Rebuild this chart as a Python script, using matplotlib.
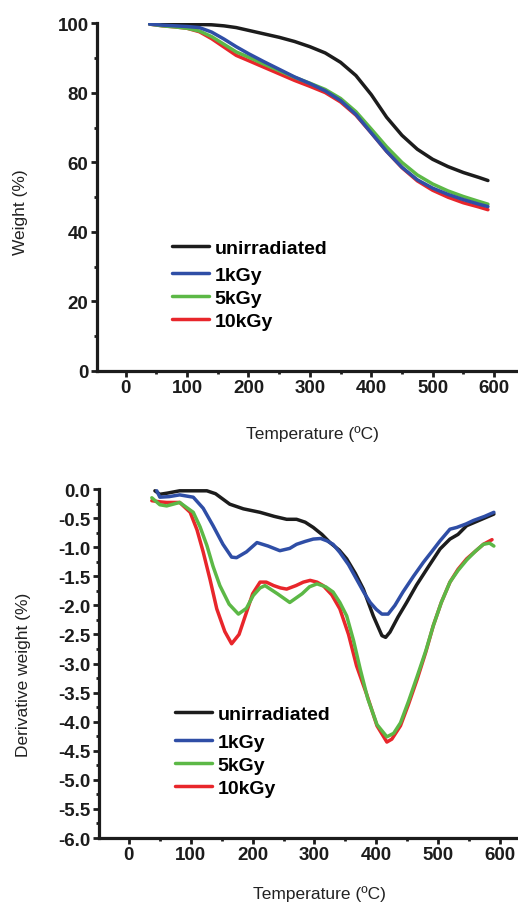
import matplotlib
matplotlib.use("Agg")
import matplotlib.pyplot as plt
from matplotlib.ticker import MultipleLocator

plt.rcParams['font.family'] = ['Liberation Sans', 'DejaVu Sans']

# TGA data (weight %)
tga_temp = [39, 60, 80, 100, 120, 140, 160, 180, 200, 225, 250, 275, 300, 325,
            350, 375, 400, 425, 450, 475, 500, 525, 550, 575, 590]
w_unirr = [99.8, 99.8, 99.8, 99.8, 99.7, 99.6, 99.3, 98.8, 98.0, 97.0, 96.0, 94.8, 93.3, 91.5,
           88.8, 85.0, 79.5, 73.0, 67.8, 63.8, 60.9, 58.8, 57.1, 55.7, 54.8]
w_1kgy = [99.8, 99.5, 99.3, 99.1, 98.8, 97.5, 95.5, 93.3, 91.3, 89.0, 86.8, 84.6, 82.7, 80.6,
          77.8, 73.8, 68.5, 63.2, 58.6, 55.0, 52.6, 50.8, 49.3, 48.0, 47.3]
w_5kgy = [99.8, 99.3, 99.0, 98.6, 97.8, 96.2, 94.0, 91.8, 90.3, 88.3, 86.4, 84.5, 82.8, 81.0,
          78.4, 74.6, 69.6, 64.5, 60.0, 56.4, 53.8, 51.8, 50.2, 48.8, 48.0]
w_10kgy = [99.8, 99.3, 99.0, 98.6, 97.6, 95.6, 93.2, 90.8, 89.3, 87.4, 85.5, 83.6, 81.9, 80.1,
           77.4, 73.6, 68.5, 63.2, 58.5, 54.7, 52.0, 50.0, 48.4, 47.2, 46.4]

# DTG data (derivative weight %)
t_unirr = [42, 50, 62, 82, 100, 126, 140, 163, 185, 212, 235, 255, 271, 285, 298, 312, 325, 340,
           352, 366, 379, 395, 409, 415, 422, 435, 449, 465, 482, 503, 519, 532, 546, 568, 590]
d_unirr = [-0.03, -0.09, -0.07, -0.03, -0.03, -0.03, -0.08, -0.26, -0.34, -0.4, -0.47, -0.52,
           -0.52, -0.57, -0.66, -0.78, -0.92, -1.05, -1.2, -1.45, -1.72, -2.18, -2.52, -2.55,
           -2.46, -2.2, -1.95, -1.65, -1.37, -1.03, -0.86, -0.78, -0.63, -0.53, -0.43]

t_1kgy = [45, 50, 65, 82, 104, 120, 136, 152, 166, 174, 190, 207, 225, 244, 260, 271, 285, 298,
          310, 320, 330, 341, 355, 368, 380, 390, 400, 409, 419, 430, 443, 460, 476, 490, 503,
          519, 530, 545, 557, 575, 590]
d_1kgy = [-0.03, -0.14, -0.13, -0.1, -0.14, -0.33, -0.63, -0.95, -1.17, -1.18, -1.08, -0.92,
          -0.98, -1.06, -1.02, -0.95, -0.9, -0.86, -0.85, -0.89, -0.95, -1.09, -1.3, -1.55,
          -1.78, -1.95, -2.07, -2.15, -2.15, -2.0, -1.77, -1.5, -1.26, -1.07, -0.89, -0.69,
          -0.66, -0.6, -0.54, -0.47, -0.4]

t_5kgy = [37, 50, 61, 82, 104, 115, 126, 136, 147, 162, 177, 190, 201, 212, 220, 240, 260, 280,
          292, 304, 318, 330, 341, 352, 363, 374, 386, 401, 417, 428, 439, 452, 466, 480, 492,
          505, 519, 532, 546, 560, 573, 583, 590]
d_5kgy = [-0.15, -0.27, -0.29, -0.23, -0.4, -0.65, -0.97, -1.33, -1.66, -1.98, -2.15, -2.05,
          -1.83, -1.7, -1.66, -1.8, -1.95, -1.8, -1.68, -1.63, -1.68, -1.77, -1.95, -2.18, -2.6,
          -3.1, -3.6, -4.05, -4.26, -4.2, -4.02, -3.65, -3.22, -2.78, -2.35, -1.95, -1.6, -1.4,
          -1.22, -1.07, -0.95, -0.93, -0.98]

t_10kgy = [37, 50, 61, 82, 99, 110, 120, 131, 142, 155, 166, 178, 190, 200, 212, 222, 234, 245,
           255, 270, 282, 293, 304, 314, 328, 341, 355, 368, 385, 401, 417, 425, 439, 452, 466,
           480, 492, 505, 519, 532, 546, 560, 573, 587]
d_10kgy = [-0.2, -0.22, -0.23, -0.23, -0.4, -0.7, -1.08, -1.55, -2.06, -2.45, -2.66, -2.5,
           -2.12, -1.8, -1.6, -1.6, -1.66, -1.7, -1.72, -1.66, -1.6, -1.57, -1.6, -1.66, -1.82,
           -2.06, -2.5, -3.04, -3.55, -4.07, -4.35, -4.3, -4.07, -3.7, -3.27, -2.8, -2.35, -1.95,
           -1.6, -1.38, -1.2, -1.07, -0.95, -0.87]

labels = ["unirradiated", "1kGy", "5kGy", "10kGy"]
colors = ["#1c1c1c", "#2f4ea6", "#5cb846", "#e8262b"]

fig = plt.figure(figsize=(5.18, 9.04), dpi=100)
ax1 = fig.add_axes([0.187, 0.5885, 0.813, 0.3845])
ax2 = fig.add_axes([0.191, 0.0719, 0.809, 0.386])


def style_axes(ax):
    for s in ['top', 'right']:
        ax.spines[s].set_visible(False)
    for s in ['left', 'bottom']:
        ax.spines[s].set_linewidth(2.3)
        ax.spines[s].set_color('#1c1c1c')
    ax.tick_params(which='major', direction='out', length=4, width=2, color='#1c1c1c',
                   labelsize=13.5, labelcolor='#1c1c1c', pad=2)
    ax.tick_params(which='minor', direction='out', length=2.5, width=2, color='#1c1c1c')
    for lab in ax.get_xticklabels() + ax.get_yticklabels():
        lab.set_fontweight('bold')


def add_legend(ax, lines, x, y1, y2):
    kw = dict(frameon=False, prop={'weight': 'bold', 'size': 14}, handlelength=1.9,
              handletextpad=0.3, borderaxespad=0, loc='upper left')
    leg1 = ax.legend(lines[:1], labels[:1], bbox_to_anchor=(x, y1), **kw)
    ax.add_artist(leg1)
    ax.legend(lines[1:], labels[1:], bbox_to_anchor=(x, y2), labelspacing=0.28, **kw)


# top panel
tga_series = [w_unirr, w_1kgy, w_5kgy, w_10kgy]
lines1 = [None] * 4
for i in [0, 3, 2, 1]:
    lines1[i], = ax1.plot(tga_temp, tga_series[i], color=colors[i], lw=2.5, solid_capstyle='round')
ax1.set_xlim(-47, 639)
ax1.set_ylim(0, 100)
ax1.set_xticks([0, 100, 200, 300, 400, 500, 600])
ax1.xaxis.set_minor_locator(MultipleLocator(50))
ax1.yaxis.set_major_locator(MultipleLocator(20))
ax1.yaxis.set_minor_locator(MultipleLocator(10))
style_axes(ax1)
ax1.set_xlabel("Temperature (ºC)", fontsize=12.5, color='#222222')
ax1.set_ylabel("Weight (%)", fontsize=12.5, color='#222222')
ax1.xaxis.set_label_coords(0.511, -0.155)
ax1.yaxis.set_label_coords(-0.163, 0.46)
add_legend(ax1, lines1, 0.16, 0.402, 0.324)

# bottom panel
dtg_t = [t_unirr, t_1kgy, t_5kgy, t_10kgy]
dtg_d = [d_unirr, d_1kgy, d_5kgy, d_10kgy]
lines2 = [None] * 4
for i in [0, 1, 3, 2]:
    lines2[i], = ax2.plot(dtg_t[i], dtg_d[i], color=colors[i], lw=2.5, solid_capstyle='round')
ax2.set_xlim(-48.5, 629)
ax2.set_ylim(-6.0, 0.0)
ax2.set_xticks([0, 100, 200, 300, 400, 500, 600])
ax2.xaxis.set_minor_locator(MultipleLocator(50))
ax2.set_yticks([-6.0 + 0.5 * k for k in range(13)])
ax2.yaxis.set_minor_locator(MultipleLocator(0.25))
ax2.yaxis.set_major_formatter(matplotlib.ticker.FormatStrFormatter('%.1f'))
style_axes(ax2)
ax2.set_xlabel("Temperature (ºC)", fontsize=12.5, color='#222222')
ax2.set_ylabel("Derivative weight (%)", fontsize=12.5, color='#222222')
ax2.xaxis.set_label_coords(0.525, -0.135)
ax2.yaxis.set_label_coords(-0.162, 0.47)
add_legend(ax2, lines2, 0.163, 0.403, 0.323)

fig.savefig("out.png", dpi=100)
